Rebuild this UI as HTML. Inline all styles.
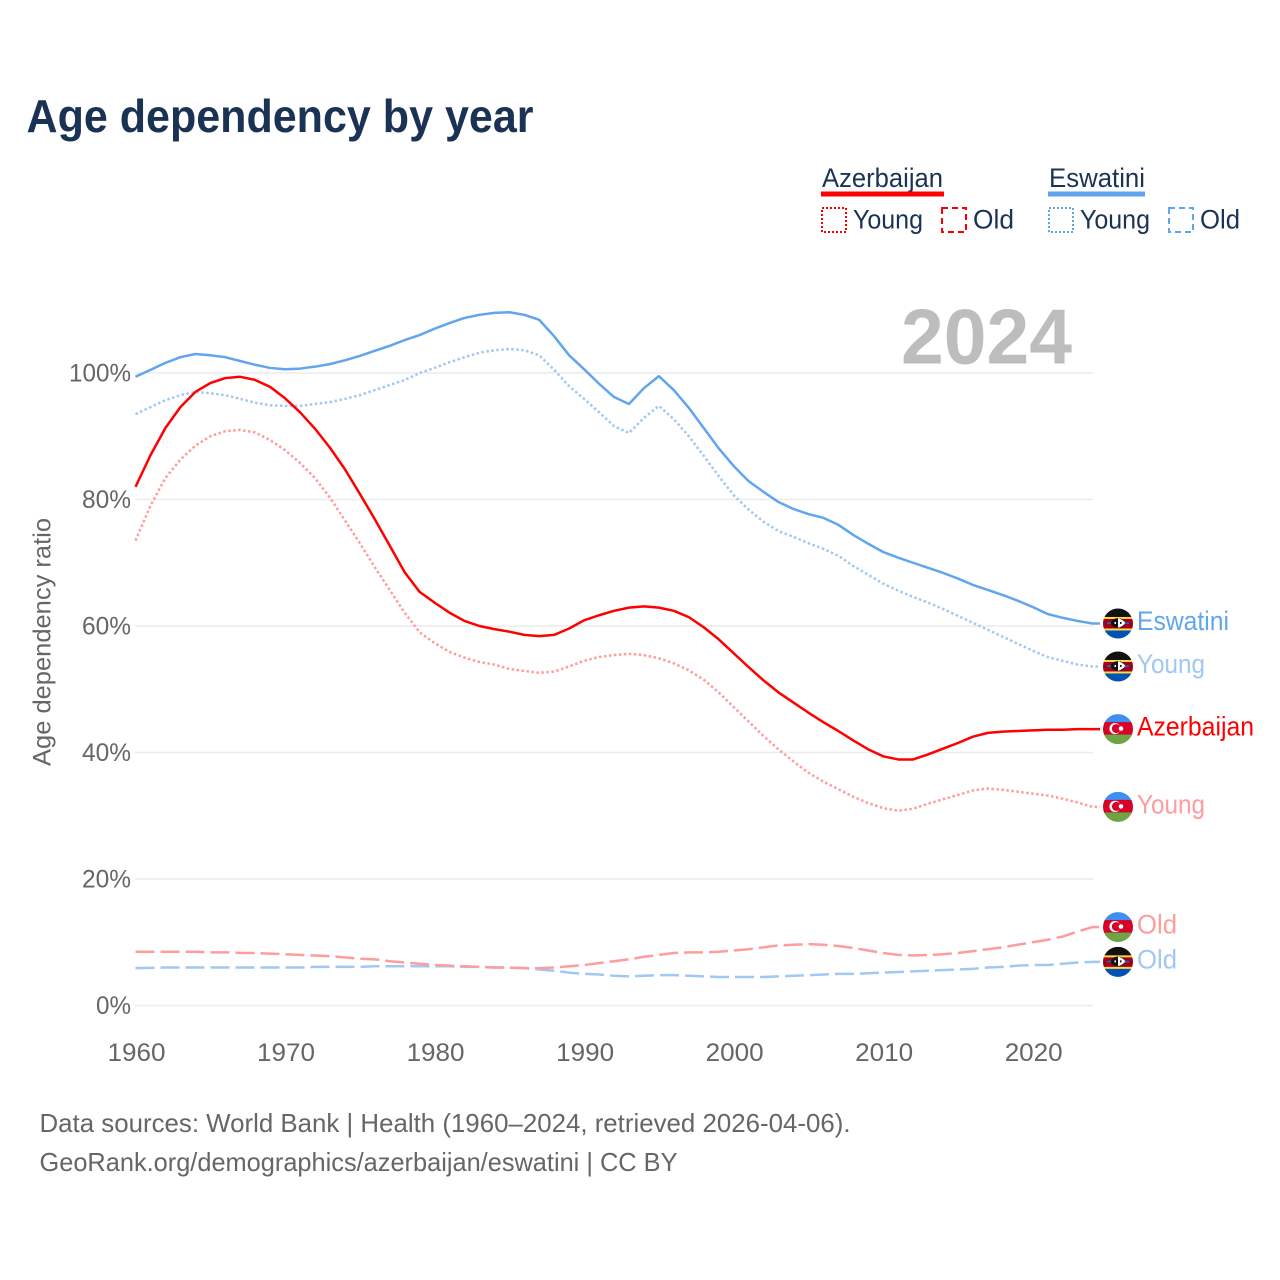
<!DOCTYPE html>
<html lang="en">
<head>
<meta charset="utf-8">
<title>Age dependency by year</title>
<style>
html,body{margin:0;padding:0;background:#fff;width:1280px;height:1280px;overflow:hidden}
svg{display:block}
text{font-family:"Liberation Sans",sans-serif}
</style>
</head>
<body>
<svg id="chart" xmlns="http://www.w3.org/2000/svg" width="1280" height="1280" viewBox="0 0 1280 1280">
  <defs>
    <clipPath id="flag-clip"><circle cx="0" cy="0" r="15"/></clipPath>
    <g id="flag-az" clip-path="url(#flag-clip)">
      <rect x="-15" y="-15" width="30" height="10" fill="#3f8ff0"/>
      <rect x="-15" y="-7" width="30" height="13" fill="#d80027"/>
      <rect x="-15" y="5.500" width="30" height="10" fill="#6da544"/>
      <circle cx="-3" cy="-0.500" r="5.600" fill="#fff"/>
      <circle cx="-1.600" cy="-0.500" r="4.500" fill="#d80027"/>
      <circle cx="3" cy="-0.500" r="2.300" fill="#fff"/>
    </g>
    <g id="flag-sz" clip-path="url(#flag-clip)">
      <rect x="-15" y="-15" width="30" height="9" fill="#111"/>
      <rect x="-15" y="-6.500" width="30" height="14" fill="#ffda44"/>
      <rect x="-15" y="-4.500" width="30" height="9.500" fill="#a2001d"/>
      <rect x="-15" y="7" width="30" height="9" fill="#0052b4"/>
      <rect x="-11" y="-1.200" width="22" height="1.800" fill="#2a62b8"/>
      <ellipse cx="0" cy="-0.500" rx="7" ry="4.800" fill="#111"/>
      <path d="M0,-5.300 C3.500,-4.300 7,-2 7,-0.500 C7,1 3.500,3.300 0,4.300 Z" fill="#fff"/>
      <rect x="-3.500" y="-1.500" width="1.500" height="2" fill="#fff"/>
      <rect x="2" y="-1.500" width="1.500" height="2" fill="#111"/>
    </g>
  </defs>

  <text x="26.500" y="132" font-size="46" font-weight="700" fill="#1a3354" textLength="507" lengthAdjust="spacingAndGlyphs">Age dependency by year</text>

  <g font-size="27" fill="#1a3354">
    <text x="822" y="187" textLength="121" lengthAdjust="spacingAndGlyphs">Azerbaijan</text>
    <rect x="821" y="191.500" width="123" height="5" fill="#ff0000"/>
    <rect x="822" y="208" width="24" height="24" fill="none" stroke="#ff0000" stroke-width="2" stroke-dasharray="2 2"/>
    <text x="853" y="228.500" textLength="70" lengthAdjust="spacingAndGlyphs">Young</text>
    <rect x="942" y="208" width="24" height="24" fill="none" stroke="#ff0000" stroke-width="2" stroke-dasharray="6 4"/>
    <text x="973" y="228.500" textLength="41" lengthAdjust="spacingAndGlyphs">Old</text>

    <text x="1049" y="187" textLength="96" lengthAdjust="spacingAndGlyphs">Eswatini</text>
    <rect x="1048" y="191.500" width="97" height="5" fill="#60a5ee"/>
    <rect x="1049" y="208" width="24" height="24" fill="none" stroke="#60a5ee" stroke-width="2" stroke-dasharray="2 2"/>
    <text x="1080" y="228.500" textLength="70" lengthAdjust="spacingAndGlyphs">Young</text>
    <rect x="1169" y="208" width="24" height="24" fill="none" stroke="#60a5ee" stroke-width="2" stroke-dasharray="6 4"/>
    <text x="1200" y="228.500" textLength="40" lengthAdjust="spacingAndGlyphs">Old</text>
  </g>

  <g id="grid"></g>
  <g id="y-ticks"></g>
  <g id="x-ticks"></g>

  <text transform="translate(50.500,642) rotate(-90)" text-anchor="middle" font-size="25" fill="#666666" textLength="248" lengthAdjust="spacingAndGlyphs">Age dependency ratio</text>

  <text x="901" y="363.500" font-size="78" font-weight="700" fill="#bdbdbd" textLength="171" lengthAdjust="spacingAndGlyphs">2024</text>

  <g id="series"></g>
  <g id="end-labels"></g>

  <text x="39.500" y="1132" font-size="26" fill="#666666" textLength="811" lengthAdjust="spacingAndGlyphs">Data sources: World Bank | Health (1960–2024, retrieved 2026-04-06).</text>
  <text x="39.500" y="1171" font-size="26" fill="#666666" textLength="638" lengthAdjust="spacingAndGlyphs">GeoRank.org/demographics/azerbaijan/eswatini | CC BY</text>
</svg>

<script>
const years = [1960,1961,1962,1963,1964,1965,1966,1967,1968,1969,1970,1971,1972,1973,1974,1975,1976,1977,1978,1979,1980,1981,1982,1983,1984,1985,1986,1987,1988,1989,1990,1991,1992,1993,1994,1995,1996,1997,1998,1999,2000,2001,2002,2003,2004,2005,2006,2007,2008,2009,2010,2011,2012,2013,2014,2015,2016,2017,2018,2019,2020,2021,2022,2023,2024];
const yearTicks = [1960,1970,1980,1990,2000,2010,2020];
const percentTicks = [0,20,40,60,80,100];

const azerbaijanTotal = [82,87,91.3,94.6,97,98.4,99.2,99.4,98.9,97.8,96,93.8,91.2,88.2,84.8,80.9,76.9,72.7,68.5,65.4,63.7,62.1,60.8,60,59.5,59.1,58.6,58.4,58.6,59.6,60.9,61.7,62.4,62.9,63.1,62.9,62.4,61.4,59.8,57.9,55.7,53.5,51.4,49.5,47.9,46.3,44.8,43.4,41.9,40.5,39.4,38.9,38.9,39.7,40.6,41.5,42.5,43.1,43.3,43.4,43.5,43.6,43.6,43.7,43.7];
const azerbaijanYoung = [73.5,79,83.4,86.3,88.5,90,90.8,91,90.6,89.4,87.8,85.8,83.4,80.3,76.7,73.1,69.3,65.7,62.1,59,57.3,55.9,55,54.3,53.9,53.2,52.9,52.6,52.8,53.6,54.5,55.1,55.4,55.6,55.4,54.9,54.1,53,51.5,49.5,47.2,44.9,42.6,40.5,38.6,36.8,35.4,34.2,33,32,31.2,30.8,31.1,31.9,32.6,33.3,34,34.3,34.1,33.8,33.5,33.2,32.7,32.1,31.4];
const azerbaijanOld = [8.5,8.5,8.5,8.5,8.5,8.4,8.4,8.3,8.3,8.2,8.1,8,7.9,7.8,7.6,7.4,7.3,7,6.8,6.6,6.4,6.3,6.2,6.1,6,6,5.9,5.9,6,6.2,6.4,6.7,7,7.3,7.7,8,8.3,8.4,8.4,8.5,8.7,8.9,9.2,9.5,9.6,9.7,9.6,9.4,9.1,8.7,8.3,8,7.9,8,8.1,8.3,8.6,8.9,9.2,9.6,10,10.4,10.9,11.7,12.4];
const eswatiniTotal = [99.4,100.5,101.6,102.5,103,102.8,102.5,101.9,101.3,100.8,100.6,100.7,101,101.4,102,102.7,103.5,104.3,105.2,106,107,107.9,108.7,109.2,109.5,109.6,109.2,108.4,105.8,102.8,100.6,98.3,96.2,95.1,97.6,99.5,97.3,94.5,91.3,88.1,85.3,82.9,81.2,79.6,78.5,77.7,77.1,76,74.4,73,71.7,70.8,70,69.2,68.4,67.5,66.5,65.7,64.9,64,63,61.9,61.3,60.8,60.4];
const eswatiniYoung = [93.5,94.6,95.7,96.5,97,96.8,96.5,95.9,95.3,94.9,94.8,94.8,95.1,95.4,95.9,96.5,97.3,98.1,98.9,100,100.8,101.7,102.5,103.2,103.6,103.8,103.6,102.8,100.5,97.9,95.9,93.8,91.6,90.5,92.9,94.8,92.7,90,86.9,83.7,80.7,78.4,76.5,75,74.1,73.1,72.2,71.1,69.5,68.1,66.7,65.6,64.6,63.7,62.7,61.6,60.5,59.4,58.3,57.2,56.1,55.1,54.5,53.9,53.6];
const eswatiniOld = [5.9,5.95,6,6,6,6,6,6,6,6,6,6,6.1,6.1,6.1,6.1,6.2,6.2,6.2,6.2,6.2,6.2,6.1,6.1,6,6,5.9,5.7,5.5,5.2,5,4.9,4.7,4.6,4.7,4.8,4.8,4.7,4.6,4.5,4.5,4.5,4.5,4.6,4.7,4.8,4.9,5,5,5.1,5.2,5.3,5.4,5.5,5.6,5.7,5.8,6,6.1,6.3,6.4,6.4,6.6,6.8,6.9];

const NS = 'http://www.w3.org/2000/svg';
function xScale(year){ return 135.5 + (year - 1960) * (1092.5 - 135.5) / 64; }
function yScale(pct){ return 1005.5 - pct * 6.325; }
function make(tag, attrs, parent, text){
  const e = document.createElementNS(NS, tag);
  for (const k in attrs) e.setAttribute(k, attrs[k]);
  if (text !== undefined) e.textContent = text;
  parent.appendChild(e);
  return e;
}

const grid = document.getElementById('grid');
const yTicks = document.getElementById('y-ticks');
percentTicks.forEach(function(p){
  const line = make('line', {x1:135, x2:1093, y1:yScale(p), y2:yScale(p), stroke:'#ececec', 'stroke-width':1.5}, grid);
  
  
  const label = make('text', {x:131, y:yScale(p)+8.5, 'text-anchor':'end', 'font-size':25, fill:'#666666', textLength: p === 100 ? 62 : (p === 0 ? 35 : 49), lengthAdjust:'spacingAndGlyphs'}, yTicks, p + '%');
  
  
});

const xTicks = document.getElementById('x-ticks');
yearTicks.forEach(function(y){
  const label = make('text', {x:xScale(y)+1, y:1061, 'text-anchor':'middle', 'font-size':25, fill:'#666666', textLength:58, lengthAdjust:'spacingAndGlyphs'}, xTicks, String(y));
  
  
});

const SOLID = 'none', DOT = '2.5 2.5', DASH = '19 6';
const seriesList = [
  {id:'eswatini-old', values:eswatiniOld, color:'#a0c8f2', dash:DASH, flag:'#flag-sz', label:'Old', len:40},
  {id:'azerbaijan-old', values:azerbaijanOld, color:'#ff9c9c', dash:DASH, flag:'#flag-az', label:'Old', len:40},
  {id:'eswatini-young', values:eswatiniYoung, color:'#a0c8f2', dash:DOT, flag:'#flag-sz', label:'Young', len:68},
  {id:'azerbaijan-young', values:azerbaijanYoung, color:'#ff9c9c', dash:DOT, flag:'#flag-az', label:'Young', len:68},
  {id:'eswatini-total', values:eswatiniTotal, color:'#60a5ee', dash:SOLID, flag:'#flag-sz', label:'Eswatini', len:92},
  {id:'azerbaijan-total', values:azerbaijanTotal, color:'#ff0000', dash:SOLID, flag:'#flag-az', label:'Azerbaijan', len:117}
];

const seriesGroup = document.getElementById('series');
const endLabels = document.getElementById('end-labels');
seriesList.forEach(function(s){
  const endValue = s.values[s.values.length - 1];
  const endY = yScale(endValue);
  let d = s.values.map(function(v, i){ return (i ? 'L' : 'M') + xScale(years[i]).toFixed(2) + ',' + yScale(v).toFixed(2); }).join(' ');
  d += ' L1100,' + endY.toFixed(2);
  const path = make('path', {d:d, fill:'none', stroke:s.color, 'stroke-width':2.5, 'stroke-dasharray':s.dash, 'stroke-linejoin':'round'}, seriesGroup);
  
  

  const flag = make('use', {href:s.flag, transform:'translate(1118,' + endY.toFixed(2) + ')'}, endLabels);
  
  

  const label = make('text', {x:1137, y:endY + 6.5, 'font-size':27, fill:s.color, textLength:s.len, lengthAdjust:'spacingAndGlyphs'}, endLabels, s.label);
  
  
});
</script>
</body>
</html>
